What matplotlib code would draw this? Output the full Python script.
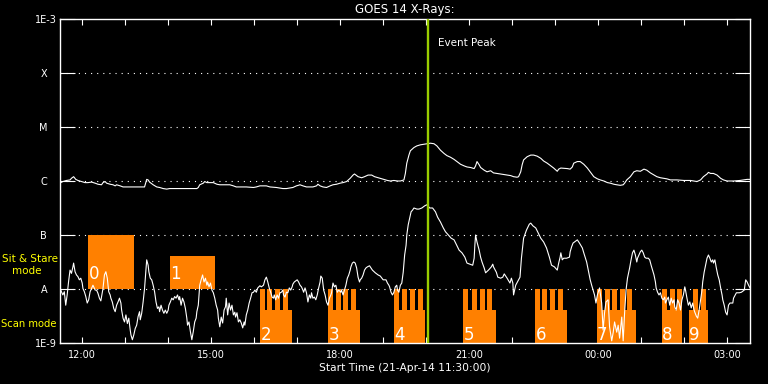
import numpy as np
import matplotlib
matplotlib.use("Agg")
import matplotlib.pyplot as plt
from matplotlib.ticker import NullLocator

# time axis: minutes after the 11:30 start, flux as log10(W/m^2)
long_min = [0, 3, 8, 13, 15, 18, 21, 24, 29, 34, 38, 43, 48, 52, 57, 59, 62, 64, 69, 73,
            76, 78, 83, 87, 101, 117, 120, 122, 124, 129, 134, 138, 143, 148, 152, 162, 176, 190, 192, 194,
            199, 201, 204, 213, 218, 222, 236, 241, 245, 259, 269, 273, 278, 287, 292, 301, 310, 315, 320, 324,
            329, 334, 338, 343, 352, 357, 359, 362, 366, 371, 376, 380, 385, 390, 394, 399, 404, 408, 410, 415,
            420, 424, 429, 434, 438, 443, 448, 451, 456, 460, 465, 470, 474, 479, 481, 483, 486, 488, 493, 497,
            502, 507, 511, 516, 521, 525, 530, 535, 539, 544, 549, 553, 558, 563, 567, 572, 577, 579, 581, 584,
            586, 591, 595, 600, 604, 609, 618, 628, 632, 637, 639, 642, 644, 646, 651, 656, 660, 665, 670, 674,
            679, 684, 688, 693, 695, 698, 707, 711, 714, 716, 721, 725, 730, 735, 739, 744, 749, 753, 758, 763,
            767, 772, 776, 781, 785, 787, 790, 795, 800, 804, 809, 814, 818, 823, 828, 832, 837, 842, 846, 851,
            860, 870, 879, 888, 893, 897, 902, 904, 907, 911, 916, 921, 925, 930, 939, 948, 953, 958, 962]
long_log = [-6.03, -6.01, -5.99, -5.98, -5.95, -5.92, -5.97, -5.99, -6.01, -6.03, -6.03, -6.02, -6.04, -6.06, -6.07, -6.03, -6.01, -6.04, -6.06, -6.07,
            -6.09, -6.07, -6.09, -6.11, -6.11, -6.11, -5.97, -5.98, -6.02, -6.07, -6.11, -6.12, -6.14, -6.15, -6.14, -6.14, -6.14, -6.14, -6.12, -6.07,
            -6.04, -6.01, -6.03, -6.03, -6.06, -6.07, -6.07, -6.09, -6.11, -6.11, -6.12, -6.11, -6.09, -6.09, -6.11, -6.12, -6.14, -6.14, -6.13, -6.12,
            -6.09, -6.07, -6.09, -6.11, -6.11, -6.09, -6.06, -6.09, -6.11, -6.12, -6.09, -6.07, -6.06, -6.04, -6.03, -6.01, -5.95, -5.89, -5.87, -5.92,
            -5.94, -5.92, -5.89, -5.89, -5.92, -5.94, -5.96, -5.97, -5.99, -6.00, -5.99, -6.00, -6.00, -5.98, -5.86, -5.67, -5.52, -5.44, -5.38, -5.35,
            -5.33, -5.32, -5.31, -5.30, -5.31, -5.35, -5.43, -5.49, -5.53, -5.56, -5.60, -5.64, -5.69, -5.72, -5.74, -5.75, -5.77, -5.72, -5.64, -5.70,
            -5.75, -5.80, -5.83, -5.81, -5.85, -5.86, -5.88, -5.90, -5.92, -5.93, -5.92, -5.83, -5.70, -5.61, -5.55, -5.52, -5.52, -5.54, -5.58, -5.63,
            -5.67, -5.72, -5.76, -5.82, -5.78, -5.76, -5.77, -5.78, -5.74, -5.67, -5.64, -5.64, -5.69, -5.76, -5.83, -5.92, -5.96, -5.98, -6.00, -6.03,
            -6.04, -6.06, -6.07, -6.08, -6.07, -6.04, -5.98, -5.92, -5.83, -5.81, -5.82, -5.78, -5.80, -5.85, -5.89, -5.92, -5.94, -5.95, -5.96, -5.98,
            -5.98, -5.99, -5.99, -6.01, -5.98, -5.92, -5.87, -5.84, -5.86, -5.86, -5.89, -5.95, -5.98, -6.00, -6.00, -5.99, -5.98, -5.97, -5.97]

short_min = [0, 3, 5, 7, 9, 11, 13, 15, 17, 18, 20, 22, 24, 26, 28, 30, 31, 33, 35, 37,
             39, 41, 43, 45, 46, 48, 50, 52, 54, 56, 57, 59, 61, 63, 65, 67, 69, 70, 72, 74,
             76, 78, 80, 82, 84, 85, 87, 89, 91, 93, 95, 97, 98, 100, 102, 104, 106, 108, 110, 111,
             113, 115, 117, 119, 120, 122, 123, 125, 127, 129, 131, 133, 135, 137, 138, 140, 142, 144, 146, 148,
             150, 151, 153, 155, 157, 159, 161, 163, 165, 166, 168, 170, 172, 174, 176, 177, 179, 181, 183, 185,
             187, 189, 190, 192, 194, 196, 198, 200, 202, 204, 205, 207, 209, 211, 213, 215, 217, 219, 220, 222,
             224, 226, 228, 230, 231, 233, 235, 237, 239, 241, 243, 244, 246, 248, 250, 252, 254, 256, 257, 259,
             261, 263, 265, 267, 269, 271, 273, 275, 278, 280, 283, 285, 287, 289, 291, 293, 295, 297, 298, 300,
             302, 304, 306, 308, 310, 311, 313, 315, 317, 319, 321, 323, 324, 326, 328, 330, 332, 334, 336, 338,
             339, 341, 343, 345, 347, 349, 350, 352, 354, 356, 358, 360, 362, 363, 365, 367, 369, 371, 373, 375,
             377, 378, 380, 382, 384, 386, 388, 391, 392, 394, 396, 398, 400, 402, 404, 405, 407, 409, 411, 413,
             415, 417, 418, 420, 422, 424, 426, 428, 431, 435, 439, 443, 446, 450, 454, 456, 458, 459, 461, 463,
             465, 467, 469, 470, 472, 474, 476, 478, 480, 482, 483, 485, 487, 489, 491, 493, 497, 500, 504, 508,
             511, 515, 519, 523, 526, 530, 534, 537, 541, 545, 549, 552, 556, 560, 564, 567, 571, 575, 577, 578,
             579, 581, 584, 586, 588, 591, 593, 597, 601, 603, 604, 608, 610, 614, 617, 619, 623, 627, 629, 631,
             632, 635, 639, 641, 643, 645, 646, 650, 654, 656, 659, 663, 667, 670, 674, 678, 682, 685, 689, 693,
             695, 697, 698, 700, 702, 706, 710, 711, 713, 715, 719, 721, 724, 728, 730, 734, 737, 739, 741, 743,
             745, 747, 749, 751, 752, 755, 757, 759, 761, 764, 766, 769, 771, 773, 776, 778, 780, 783, 785, 787,
             789, 791, 794, 796, 798, 800, 802, 804, 805, 807, 809, 811, 813, 815, 817, 820, 822, 824, 826, 828,
             830, 831, 833, 835, 837, 839, 841, 843, 844, 846, 848, 850, 852, 854, 856, 857, 859, 861, 863, 865,
             867, 869, 871, 872, 874, 876, 878, 880, 882, 884, 885, 887, 889, 891, 893, 895, 896, 898, 900, 902,
             904, 906, 908, 910, 911, 913, 915, 917, 919, 921, 923, 924, 926, 928, 930, 932, 934, 938, 939, 943,
             947, 950, 954, 956, 958, 960, 962]
short_log = [-8.02, -8.11, -8.05, -8.30, -8.11, -7.86, -7.65, -7.71, -7.59, -7.52, -7.68, -7.74, -7.77, -7.83, -7.80, -7.89, -7.99, -8.05, -8.14, -8.26,
             -8.20, -8.05, -7.99, -7.93, -7.96, -8.02, -8.02, -8.08, -8.17, -8.22, -8.14, -7.99, -7.74, -7.68, -7.80, -8.05, -8.11, -8.17, -8.24, -8.36,
             -8.42, -8.30, -8.24, -8.17, -8.26, -8.39, -8.54, -8.61, -8.48, -8.64, -8.54, -8.76, -8.85, -8.94, -8.85, -8.73, -8.67, -8.51, -8.42, -8.57,
             -8.45, -8.24, -7.99, -7.62, -7.46, -7.56, -7.68, -7.80, -7.83, -7.93, -8.05, -8.24, -8.36, -8.33, -8.42, -8.30, -8.39, -8.45, -8.39, -8.45,
             -8.39, -8.30, -8.24, -8.17, -8.20, -8.14, -8.17, -8.11, -8.20, -8.14, -8.30, -8.17, -8.24, -8.36, -8.54, -8.67, -8.61, -8.79, -8.94, -8.79,
             -8.61, -8.54, -8.42, -8.30, -7.93, -7.83, -7.74, -7.87, -7.80, -7.93, -7.87, -7.96, -7.89, -8.02, -8.07, -8.17, -8.30, -8.39, -8.54, -8.70,
             -8.52, -8.63, -8.39, -8.33, -8.17, -8.48, -8.26, -8.39, -8.30, -8.48, -8.43, -8.52, -8.44, -8.61, -8.57, -8.63, -8.72, -8.61, -8.67, -8.48,
             -8.39, -8.26, -8.17, -8.07, -8.06, -8.02, -8.06, -7.98, -7.94, -7.96, -7.93, -7.83, -7.78, -7.87, -7.98, -8.06, -8.15, -8.17, -8.11, -8.20,
             -8.11, -8.17, -8.07, -8.06, -8.02, -8.11, -8.15, -8.06, -8.07, -7.98, -8.02, -7.96, -7.91, -7.87, -7.85, -7.83, -7.87, -7.93, -7.96, -8.02,
             -8.06, -7.98, -8.07, -8.24, -8.11, -8.17, -8.07, -8.17, -8.15, -8.20, -8.11, -7.98, -7.87, -7.76, -7.80, -8.02, -8.11, -8.24, -8.30, -8.17,
             -8.11, -8.07, -7.89, -7.96, -7.93, -8.06, -8.02, -8.06, -8.02, -8.11, -8.02, -7.93, -7.80, -7.74, -7.65, -7.59, -7.52, -7.50, -7.52, -7.61,
             -7.78, -7.87, -7.83, -7.80, -7.74, -7.65, -7.61, -7.59, -7.57, -7.65, -7.70, -7.74, -7.76, -7.83, -7.83, -7.89, -7.93, -7.96, -8.06, -8.11,
             -8.06, -7.96, -7.93, -8.02, -8.06, -7.93, -7.89, -7.69, -7.37, -7.19, -7.00, -6.81, -6.69, -6.57, -6.54, -6.50, -6.52, -6.52, -6.50, -6.46,
             -6.44, -6.50, -6.50, -6.57, -6.67, -6.76, -6.87, -6.94, -7.00, -7.06, -7.09, -7.17, -7.28, -7.33, -7.41, -7.52, -7.54, -7.56, -7.43, -7.19,
             -7.00, -7.13, -7.28, -7.41, -7.50, -7.61, -7.70, -7.65, -7.59, -7.54, -7.59, -7.69, -7.78, -7.80, -7.78, -7.72, -7.80, -7.89, -7.80, -7.89,
             -8.11, -7.93, -7.83, -7.78, -7.43, -7.19, -7.06, -6.91, -6.80, -6.78, -6.83, -6.87, -6.98, -7.06, -7.13, -7.24, -7.41, -7.56, -7.59, -7.65,
             -7.52, -7.41, -7.33, -7.46, -7.43, -7.43, -7.41, -7.31, -7.22, -7.15, -7.11, -7.09, -7.15, -7.24, -7.33, -7.50, -7.70, -7.83, -7.93, -8.02,
             -8.11, -8.26, -8.11, -8.02, -7.98, -8.26, -8.76, -8.44, -8.24, -8.20, -8.70, -8.96, -8.81, -8.61, -8.80, -8.67, -8.91, -8.52, -8.96, -8.44,
             -8.02, -7.80, -7.61, -7.46, -7.33, -7.28, -7.37, -7.50, -7.43, -7.37, -7.31, -7.28, -7.33, -7.41, -7.43, -7.43, -7.46, -7.56, -7.65, -7.74,
             -7.87, -7.98, -8.06, -8.11, -8.07, -8.17, -8.20, -8.15, -8.26, -8.20, -8.15, -8.30, -8.17, -8.26, -8.20, -8.33, -8.39, -8.20, -8.26, -8.39,
             -8.20, -8.11, -7.96, -8.02, -8.17, -8.30, -8.24, -8.35, -8.26, -8.39, -8.43, -8.50, -8.54, -8.39, -8.20, -8.02, -7.87, -7.69, -7.56, -7.43,
             -7.37, -7.43, -7.50, -7.46, -7.52, -7.46, -7.61, -7.74, -7.83, -7.98, -8.11, -8.20, -8.30, -8.43, -8.48, -8.30, -8.26, -8.26, -8.17, -8.07,
             -8.07, -8.06, -8.02, -7.83, -7.87, -7.93, -7.98]

# sit & stare blocks (minutes, flux top)
sit_start = [38, 152]
sit_end = [102, 216]
sit_top = [1e-7, 4.1e-8]

# scan mode blocks and the sit intervals inside them
scan_start = [278, 373, 465, 562, 662, 748, 839, 877]
scan_end = [323, 417, 509, 607, 706, 803, 867, 904]
scan_teeth = [[278, 288, 299, 310], [373, 384, 394, 405], [465, 476, 487, 498],
              [562, 574, 585, 595], [662, 672, 683, 694], [748, 759, 769, 780, 790],
              [839, 850, 860], [882, 893]]
tooth_len = 7
scan_level = 4.1e-9
peak_min = 512

hour_ticks = [30, 210, 390, 570, 750, 930]
hour_labels = ["12:00", "15:00", "18:00", "21:00", "00:00", "03:00"]
level_ticks = [1e-9, 1e-8, 1e-7, 1e-6, 1e-5, 1e-4, 1e-3]
level_labels = ["1E-9", "A", "B", "C", "M", "X", "1E-3"]

ORANGE = "#ff8000"
GREEN = "#9acd00"

fig = plt.figure(figsize=(7.68, 3.84), dpi=100, facecolor="black")
ax = fig.add_axes([60 / 768, 41 / 384, 690 / 768, 324 / 384], facecolor="black")
ax.set_yscale("log")

for i in range(len(sit_start)):
    ax.bar(sit_start[i], sit_top[i] - 1e-8, bottom=1e-8, width=sit_end[i] - sit_start[i],
           align="edge", color=ORANGE, lw=0, zorder=2)
    ax.text(sit_start[i] + 1, 1.53e-8, str(i), color="white", fontsize=12, va="baseline", zorder=5)

for i in range(len(scan_start)):
    ax.bar(scan_start[i], scan_level - 1e-9, bottom=1e-9, width=scan_end[i] - scan_start[i],
           align="edge", color=ORANGE, lw=0, zorder=2)
    ax.bar(scan_teeth[i], 1e-8 - 1e-9, bottom=1e-9, width=tooth_len,
           align="edge", color=ORANGE, lw=0, zorder=2)
    ax.text(scan_start[i] + 0.5, 1.16e-9, str(i + 2), color="white", fontsize=12, va="baseline", zorder=5)

ax.plot(long_min, 10 ** np.array(long_log), color="white", lw=0.8, zorder=3)
ax.plot(short_min, 10 ** np.array(short_log), color="white", lw=0.8, zorder=3)

ax.axvline(peak_min, color=GREEN, lw=1.7, zorder=4)
ax.text(peak_min + 14, 10 ** -3.44, "Event Peak", color="white", fontsize=7.5, va="center", ha="left")

ax.set_xlim(-1, 962)
ax.set_ylim(1e-9, 1e-3)

for v in level_ticks[1:-1]:
    ax.axhline(v, color="white", lw=0.8, ls=(0, (1, 4.5)), zorder=1)

ax.set_yticks(level_ticks, level_labels)
ax.yaxis.set_minor_locator(NullLocator())
ax.tick_params(axis="y", which="major", direction="in", length=10.8, width=0.8,
               right=True, colors="white", labelsize=7)
for tick, lab in zip(ax.yaxis.get_major_ticks(), level_labels):
    if len(lab) == 1:
        tick.label1.set_horizontalalignment("center")
        tick.set_pad(11.7)
    else:
        tick.set_pad(2.5)

ax.set_xticks(hour_ticks, hour_labels)
ax.set_xticks(list(range(30, 962, 60)), minor=True)
ax.tick_params(axis="x", which="both", direction="in", length=4.3, width=0.8,
               top=True, colors="white", labelsize=7, pad=5)

for sp in ax.spines.values():
    sp.set_color("white")
    sp.set_linewidth(1.0)

fig.text(405 / 768, 1 - 9 / 384, "GOES 14 X-Rays:", color="white", fontsize=8.5, ha="center", va="center")
fig.text(405 / 768, 1 - 368 / 384, "Start Time (21-Apr-14 11:30:00)", color="white", fontsize=7.7,
         ha="center", va="center")
fig.text(2 / 768, 1 - 259 / 384, "Sit & Stare", color="yellow", fontsize=7.5, ha="left", va="center")
fig.text(12 / 768, 1 - 271 / 384, "mode", color="yellow", fontsize=7.5, ha="left", va="center")
fig.text(1 / 768, 1 - 324 / 384, "Scan mode", color="yellow", fontsize=7.2, ha="left", va="center")

fig.savefig("out.png", dpi=100, facecolor="black")
